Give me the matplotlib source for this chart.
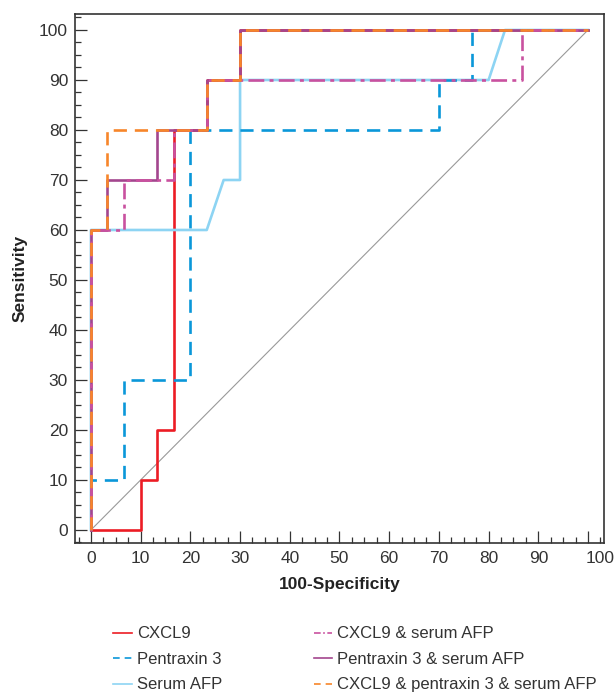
import matplotlib
matplotlib.use("Agg")
import matplotlib.pyplot as plt
import matplotlib.transforms as mtransforms
from matplotlib.ticker import MultipleLocator
from matplotlib.lines import Line2D

plt.rcParams['font.family'] = ['Liberation Sans Narrow', 'Liberation Sans', 'DejaVu Sans']

# ROC curve data (100-Specificity, Sensitivity)
cxcl9_x = [0, 10, 10, 13.3, 13.3, 16.7, 16.7, 23.3, 23.3, 30, 30, 100]
cxcl9_y = [0, 0, 10, 10, 20, 20, 80, 80, 90, 90, 100, 100]

ptx3_x = [0, 0, 6.7, 6.7, 20, 20, 70, 70, 76.7, 76.7, 100]
ptx3_y = [0, 10, 10, 30, 30, 80, 80, 90, 90, 100, 100]

afp_x = [0, 0, 23.3, 26.7, 30, 30, 80, 83.3, 100]
afp_y = [0, 60, 60, 70, 70, 90, 90, 100, 100]

cxcl9_afp_x = [0, 0, 6.7, 6.7, 16.7, 16.7, 23.3, 23.3, 86.7, 86.7, 100]
cxcl9_afp_y = [0, 60, 60, 70, 70, 80, 80, 90, 90, 100, 100]

ptx3_afp_x = [0, 0, 3.3, 3.3, 13.3, 13.3, 23.3, 23.3, 30, 30, 100]
ptx3_afp_y = [0, 60, 60, 70, 70, 80, 80, 90, 90, 100, 100]

all3_x = [0, 0, 3.3, 3.3, 23.3, 23.3, 30, 30, 100]
all3_y = [0, 60, 60, 80, 80, 90, 90, 100, 100]

labels = ["CXCL9", "Pentraxin 3", "Serum AFP",
          "CXCL9 & serum AFP", "Pentraxin 3 & serum AFP",
          "CXCL9 & pentraxin 3 & serum AFP"]

x_ticks = list(range(0, 101, 10))
y_ticks = list(range(0, 101, 10))

c_red = "#ec1c24"
c_blue = "#0a97d9"
c_light = "#8dd4f3"
c_pink = "#c9519f"
c_purple = "#a3468e"
c_orange = "#f7862a"

fig = plt.figure(figsize=(6.15, 6.93), dpi=100)
ax = fig.add_axes([0.122, 0.2165, 0.860, 0.7633])

ax.plot([0, 100], [0, 100], color="#999999", lw=0.8, zorder=1)

lw = 1.9
ax.plot(cxcl9_x, cxcl9_y, color=c_red, lw=lw, zorder=2)
ax.plot(afp_x, afp_y, color=c_light, lw=lw, zorder=3)
ax.plot(ptx3_x, ptx3_y, color=c_blue, lw=lw, dashes=(5, 3), zorder=4)
ax.plot(ptx3_afp_x, ptx3_afp_y, color=c_purple, lw=lw, zorder=5)
ax.plot(cxcl9_afp_x, cxcl9_afp_y, color=c_pink, lw=lw, dashes=(6, 2, 1.5, 2), zorder=6)
ax.plot(all3_x, all3_y, color=c_orange, lw=lw, dashes=(5, 3), zorder=7)

ax.set_xlim(-3.2, 103.2)
ax.set_ylim(-2.6, 103.2)
ax.set_xticks(x_ticks)
ax.set_yticks(y_ticks)
ax.xaxis.set_minor_locator(MultipleLocator(2.5))
ax.yaxis.set_minor_locator(MultipleLocator(2.5))
ax.tick_params(which="major", direction="in", length=8.7, width=0.9, color="#333333",
               labelsize=12.5, pad=5, labelcolor="#333333")
ax.tick_params(axis="x", which="major", pad=6)
ax.tick_params(which="minor", direction="in", length=4.5, width=0.9, color="#333333")
for s in ax.spines.values():
    s.set_linewidth(1.2)
    s.set_color("#333333")

# last x tick label is pushed right in the reference
lab100 = ax.get_xticklabels()[-1]
lab100.set_transform(lab100.get_transform() +
                     mtransforms.ScaledTranslation(12 / 100, 0, fig.dpi_scale_trans))

ax.set_xlabel("100-Specificity", fontsize=12.5, fontweight="bold", labelpad=8, color="#222222")
ax.set_ylabel("Sensitivity", fontsize=12.5, fontweight="bold", labelpad=8, color="#222222")

handles = [
    Line2D([], [], color=c_red, lw=1.2),
    Line2D([], [], color=c_blue, lw=1.2, dashes=(4, 3)),
    Line2D([], [], color=c_light, lw=1.2),
    Line2D([], [], color=c_pink, lw=1.2, dashes=(4, 1.5, 1, 1.5)),
    Line2D([], [], color=c_purple, lw=1.2),
    Line2D([], [], color=c_orange, lw=1.2, dashes=(4, 3)),
]
leg = fig.legend(handles, labels, ncol=2, loc="upper left",
                 bbox_to_anchor=(0.171, 0.108), frameon=False,
                 fontsize=12, handlelength=1.1, handletextpad=0.3,
                 labelspacing=0.63, columnspacing=5.5, borderpad=0)
for t in leg.get_texts():
    t.set_color("#333333")

fig.savefig("out.png", dpi=100)
